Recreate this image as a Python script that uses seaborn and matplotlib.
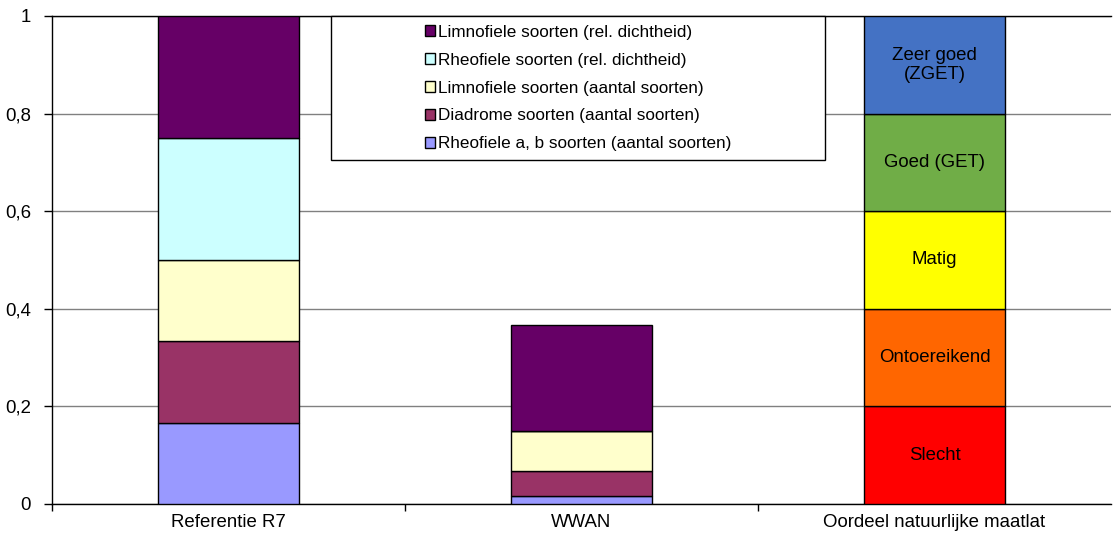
import numpy as np
import matplotlib
matplotlib.use("Agg")
import matplotlib.pyplot as plt
from matplotlib.patches import Patch, Rectangle
from matplotlib.ticker import FuncFormatter, FixedLocator
import seaborn as sns

# Categories on the x axis
categories = ["Referentie R7", "WWAN", "Oordeel natuurlijke maatlat"]
fish_categories = ["Referentie R7", "WWAN"]

# Stacked fish-index components (bottom to top)
series_names = [
    "Rheofiele a, b soorten (aantal soorten)",
    "Diadrome soorten (aantal soorten)",
    "Limnofiele soorten (aantal soorten)",
    "Rheofiele soorten (rel. dichtheid)",
    "Limnofiele soorten (rel. dichtheid)",
]
rheofiele_ab = [0.1667, 0.0167]
diadrome = [0.1667, 0.05]
limnofiele_aantal = [0.1667, 0.0833]
rheofiele_rel = [0.25, 0.0]
limnofiele_rel = [0.25, 0.2167]
series_colors = ["#9999FF", "#993366", "#FFFFCC", "#CCFFFF", "#660066"]

# Assessment scale classes (bottom to top)
scale_labels = ["Slecht", "Ontoereikend", "Matig", "Goed (GET)", "Zeer goed\n(ZGET)"]
scale_widths = [0.2, 0.2, 0.2, 0.2, 0.2]
scale_colors = ["#FF0000", "#FF6600", "#FFFF00", "#70AD47", "#4472C4"]

sns.set_style("white")
plt.rcParams["font.family"] = ["Liberation Sans", "DejaVu Sans"]
plt.rcParams["text.color"] = "black"
FS = 13.4
FS_LEG = 12.3

W, H = 1113, 537
fig = plt.figure(figsize=(W / 100, H / 100), dpi=100)
ax = fig.add_axes([52 / W, 33 / H, (1111 - 52) / W, (504 - 16) / H])

bar_kw = dict(edgecolor="black", linewidth=1.0, width=0.4, order=categories,
              saturation=1, ax=ax, zorder=3)

series_values = [rheofiele_ab, diadrome, limnofiele_aantal, rheofiele_rel, limnofiele_rel]
bottom = np.zeros(len(fish_categories))
for vals, col in zip(series_values, series_colors):
    sns.barplot(x=fish_categories, y=vals, bottom=bottom.copy(), color=col, **bar_kw)
    bottom += np.array(vals)

scale_bottom = 0.0
for lab, w, col in zip(scale_labels, scale_widths, scale_colors):
    sns.barplot(x=[categories[2]], y=[w], bottom=scale_bottom, color=col, **bar_kw)
    ax.text(2, scale_bottom + w / 2, lab, ha="center", va="center", color="black",
            fontsize=FS, linespacing=1.2, zorder=4)
    scale_bottom += w

ax.set_xlim(-0.5, 2.5)
ax.set_ylim(0, 1)
ax.set_yticks([0, 0.2, 0.4, 0.6, 0.8, 1.0])
ax.yaxis.set_major_formatter(FuncFormatter(lambda v, p: f"{v:g}".replace(".", ",")))
ax.grid(axis="y", color="#808080", linewidth=1.0, zorder=0)
ax.set_axisbelow(True)
ax.set_xlabel("")
ax.set_ylabel("")

ax.spines["right"].set_visible(False)
for s in ["left", "bottom", "top"]:
    ax.spines[s].set_color("black")
    ax.spines[s].set_linewidth(1.0)

ax.tick_params(axis="y", direction="out", length=6, width=1, pad=9,
               colors="black", labelsize=FS, left=True)
ax.tick_params(axis="x", which="major", length=0, pad=7, labelsize=FS, colors="black")
ax.xaxis.set_minor_locator(FixedLocator([-0.5, 0.5, 1.5]))
ax.tick_params(axis="x", which="minor", direction="out", length=5, width=1,
               color="black", bottom=True)

# Legend, listed top of stack first
handles = [Patch(facecolor=c, edgecolor="black", linewidth=1.0)
           for c in reversed(series_colors)]
labels = list(reversed(series_names))
box_x0, box_x1, box_y0, box_y1 = 331, 825, 16, 160
fig.patches.append(Rectangle((box_x0 / W, 1 - box_y1 / H),
                             (box_x1 - box_x0) / W, (box_y1 - box_y0) / H,
                             transform=fig.transFigure, facecolor="white",
                             edgecolor="black", linewidth=1.0, zorder=5))
leg = fig.legend(handles, labels, loc="center",
                 bbox_to_anchor=((box_x0 + box_x1) / 2 / W, 1 - (box_y0 + box_y1) / 2 / H),
                 frameon=False, fontsize=FS_LEG, handlelength=0.6, handleheight=0.6,
                 handletextpad=0.15, labelspacing=0.76, borderaxespad=0,
                 labelcolor="black")
leg.set_zorder(6)

fig.savefig("out.png", dpi=100)
